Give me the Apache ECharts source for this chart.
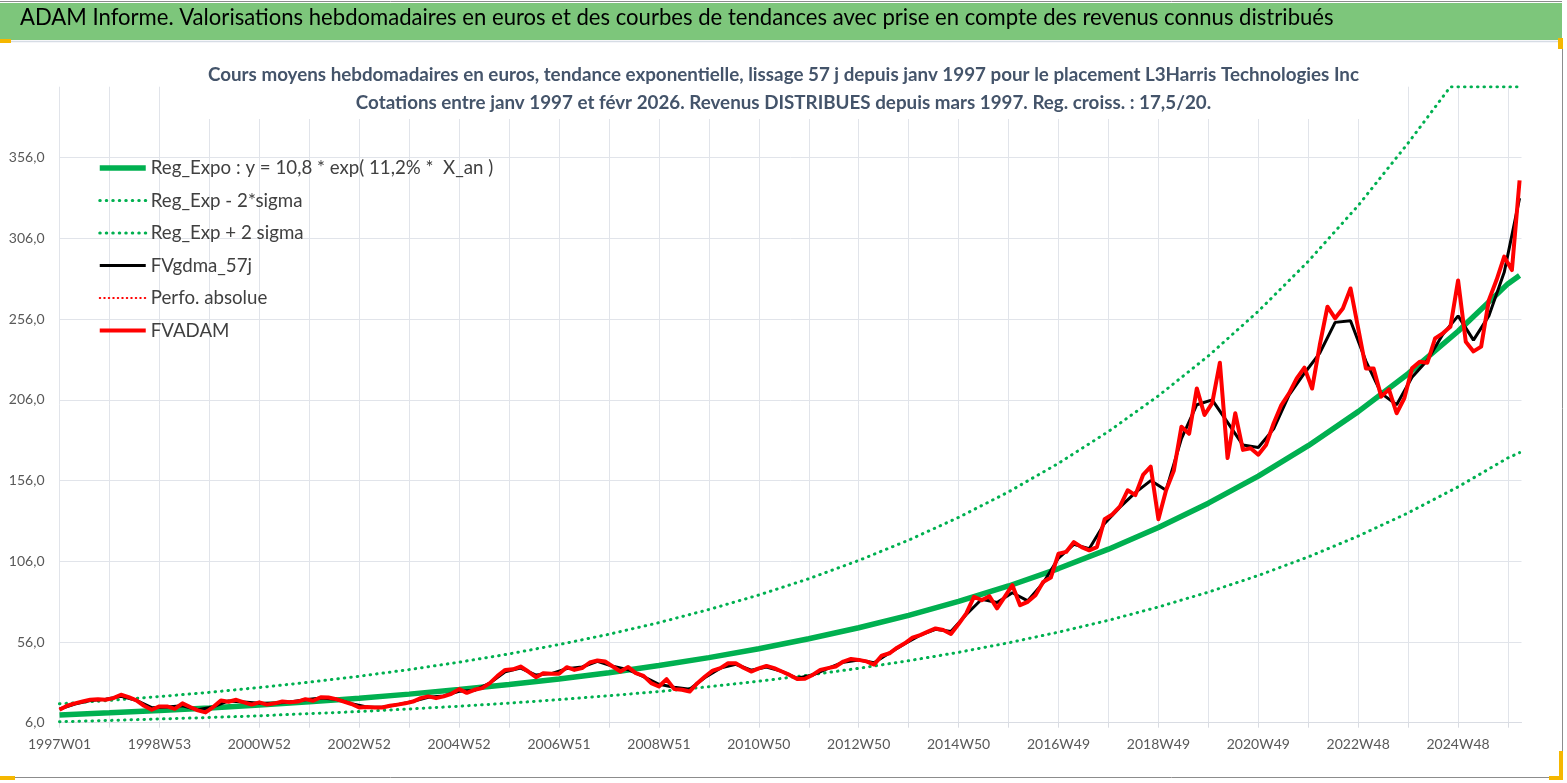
<!DOCTYPE html>
<html>
<head>
<meta charset="utf-8">
<script src="https://cdn.jsdelivr.net/npm/echarts@6.0.0/dist/echarts.min.js"></script>
<style>
html, body { margin: 0; padding: 0; background: #fff; }
#chart { width: 1567px; height: 783px; }
</style>
</head>
<body>
<div id="chart"></div>
<script>
// libellés de l'axe des semaines (un tous les 104 points hebdo)
var xTickLabels = ['1997W01', '1998W53', '2000W52', '2002W52', '2004W52', '2006W51', '2008W51', '2010W50',
    '2012W50', '2014W50', '2016W49', '2018W49', '2020W49', '2022W48', '2024W48'];

// FVADAM : un point toutes les 8 semaines depuis 1997W01
var fvadamStep = 8;
var fvadam = [14.0, 16.5, 18.0, 19.1, 20.2, 20.6, 20.2, 21.2, 23.3, 21.8,
    19.8, 16.5, 14.0, 16.1, 16.1, 14.6, 18.0, 15.7, 13.6, 12.4,
    15.7, 19.8, 19.0, 20.2, 18.6, 17.2, 18.6, 17.2, 18.0, 19.1,
    18.6, 19.1, 20.6, 19.6, 21.8, 21.6, 20.6, 19.1, 17.6, 15.4,
    15.7, 15.4, 15.4, 16.5, 17.2, 18.0, 19.1, 21.2, 22.3, 21.2,
    22.3, 23.9, 26.8, 24.5, 26.4, 27.4, 30.5, 35.0, 38.7, 39.1,
    40.8, 37.7, 34.2, 36.7, 36.3, 36.3, 40.4, 38.7, 39.8, 43.3,
    44.5, 43.9, 40.8, 37.7, 40.5, 36.7, 35.0, 30.5, 28.4, 33.0,
    26.8, 26.4, 25.3, 30.5, 34.6, 38.3, 39.8, 42.8, 42.8, 40.0,
    37.7, 39.6, 41.2, 39.8, 37.7, 35.6, 33.0, 33.2, 35.6, 38.7,
    39.8, 40.8, 43.9, 45.5, 44.9, 44.0, 42.0, 47.6, 49.0, 52.5,
    55.2, 58.7, 60.3, 62.4, 64.4, 63.4, 61.0, 67.1, 73.7, 84.0,
    81.9, 84.4, 76.8, 84.0, 91.2, 78.8, 80.9, 85.0, 93.2, 95.9,
    110.7, 111.8, 117.9, 114.8, 112.8, 114.8, 132.0, 135.0, 140.0, 150.0,
    147.0, 159.5, 164.6, 132.0, 150.0, 162.0, 189.4, 185.0, 213.1, 196.6,
    204.0, 229.0, 170.0, 197.7, 175.0, 176.0, 172.0, 178.0, 191.5, 202.8,
    210.0, 219.3, 226.0, 213.0, 240.0, 263.7, 256.5, 262.6, 275.0, 250.3,
    225.5, 225.5, 208.0, 212.5, 197.7, 207.0, 225.5, 229.6, 229.0, 244.0,
    247.2, 251.3, 280.0, 242.0, 236.0, 239.0, 267.8, 280.2, 294.7, 286.4,
    342.0];

// FVgdma_57j : lissage, un point toutes les 16 semaines
var gdmaStep = 16;
var fvgdma = [14.5, 17.5, 19.8, 20.5, 22.3, 19.8, 15.3, 15.8, 16.5, 14.0,
    15.8, 19.5, 18.8, 18.0, 18.0, 18.8, 20.2, 21.3, 20.5, 17.8,
    15.8, 15.6, 17.2, 19.2, 21.8, 22.6, 25.5, 26.0, 30.5, 37.5,
    39.8, 35.5, 36.4, 39.5, 40.5, 44.0, 41.0, 38.8, 34.5, 29.8,
    28.0, 26.8, 34.0, 39.8, 42.2, 38.5, 40.5, 37.8, 33.5, 35.5,
    39.6, 43.5, 44.8, 43.2, 49.2, 55.0, 60.2, 63.9, 62.5, 73.0,
    82.5, 80.5, 86.5, 81.5, 92.5, 108.0, 116.5, 113.8, 129.5, 139.5,
    148.5, 156.0, 150.0, 182.0, 203.0, 206.0, 192.0, 178.0, 176.5, 188.0,
    209.0, 222.5, 235.0, 254.0, 255.0, 230.0, 210.0, 203.0, 220.0, 230.5,
    246.5, 258.0, 243.0, 258.0, 285.0, 331.0];

// courbes de tendance (semaines / valeurs)
var trendWeeks = [0, 52, 104, 156, 208, 260, 312, 364, 416, 468, 520, 572, 624, 676, 728, 780,
    832, 884, 936, 988, 1040, 1092, 1144, 1196, 1248, 1300, 1352, 1404, 1456, 1508, 1520];
var regExpo = [10.8, 12.1, 13.5, 15.1, 16.9, 18.9, 21.2, 23.7, 26.5, 29.6, 33.1, 37.0, 41.4, 46.3, 51.8, 58.0,
    64.8, 72.5, 81.1, 90.7, 101.5, 113.5, 126.9, 142.0, 158.8, 177.6, 198.7, 222.2, 248.5, 278.0, 283.0];
var regLow = [6.6, 7.4, 8.3, 9.2, 10.3, 11.6, 12.9, 14.5, 16.2, 18.1, 20.3, 22.7, 25.3, 28.3, 31.7, 35.5,
    39.7, 44.4, 49.6, 55.5, 62.1, 69.4, 77.7, 86.9, 97.2, 108.7, 121.6, 136.0, 152.1, 170.1, 173.3];
var upWeeks = [0, 52, 104, 156, 208, 260, 312, 364, 416, 468, 520, 572, 624, 676, 728, 780,
    832, 884, 936, 988, 1040, 1092, 1144, 1196, 1248, 1300, 1352, 1404, 1448, 1520];
var regUp = [17.7, 19.8, 22.2, 24.8, 27.8, 31.1, 34.8, 38.9, 43.5, 48.6, 54.4, 60.8, 68.0, 76.1, 85.1, 95.2,
    106.5, 119.1, 133.2, 149.0, 166.7, 186.4, 208.5, 233.2, 260.9, 291.8, 326.4, 365.1, 400, 400];
var perfoAbsolue = [];

var titre = 'ADAM Informe. Valorisations hebdomadaires en euros et des courbes de tendances avec prise en compte des revenus connus distribués';
var sousTitre1 = 'Cours moyens hebdomadaires en euros, tendance exponentielle, lissage 57 j depuis janv 1997 pour le placement L3Harris Technologies Inc';
var sousTitre2 = 'Cotations entre janv 1997 et févr 2026. Revenus DISTRIBUES depuis mars 1997. Reg. croiss. : 17,5/20.';
var nomReg = 'Reg_Expo : y = 10,8 * exp( 11,2% *  X_an )';

//taille de police calée sur la largeur voulue
var ctx = document.createElement('canvas').getContext('2d');
function fit(text, weight, width) {
    ctx.font = weight + ' 100px Lato';
    return Math.round(1000 * width / ctx.measureText(text).width) / 10;
}
var titreSize = fit(titre, 'normal', 1313);
var sousSize = fit(sousTitre1, 'bold', 1155);
var legendSize = fit(nomReg, 'normal', 342);
var axisSize = 14;

function pairs(xs, ys) {
    return ys.map(function (v, i) { return [xs[i], v]; });
}
function stepped(step, ys) {
    return ys.map(function (v, i) { return [i * step, v]; });
}

var dotted = {type: [0.5, 6], cap: 'round', width: 3, color: '#00B050'};

var chart = echarts.init(document.getElementById('chart'), null, {renderer: 'canvas'});
chart.setOption({
    backgroundColor: '#fff',
    animation: false,
    textStyle: {fontFamily: 'Lato'},
    title: {
        text: sousTitre1 + '\n' + sousTitre2,
        left: 'center',
        top: 57,
        padding: [4, 25, 2, 25],
        backgroundColor: '#fff',
        textStyle: {fontFamily: 'Lato', fontWeight: 'bold', fontSize: sousSize, color: '#44546A', lineHeight: 28}
    },
    legend: {
        orient: 'vertical',
        left: 97,
        top: 158,
        itemWidth: 46,
        itemHeight: 20,
        itemGap: 12.5,
        padding: 0,
        data: [nomReg, 'Reg_Exp - 2*sigma', 'Reg_Exp + 2 sigma', 'FVgdma_57j', 'Perfo. absolue', 'FVADAM'],
        lineStyle: {width: 'inherit'},
        itemStyle: {opacity: 0, borderWidth: 0},
        textStyle: {fontFamily: 'Lato', fontSize: legendSize, color: '#404040', lineHeight: 20}
    },
    grid: {left: 59.5, right: 45.5, top: 86.7, bottom: 60.3, containLabel: false},
    xAxis: {
        type: 'value',
        min: 0,
        max: 1522,
        interval: 52,
        axisLine: {show: true, lineStyle: {color: '#D9DCE3', width: 1}},
        axisTick: {show: true, length: 5, lineStyle: {color: '#D9DCE3'}},
        splitLine: {show: true, showMaxLine: false, lineStyle: {color: '#E1E4EA', width: 1}},
        axisLabel: {
            margin: 15,
            fontFamily: 'Lato',
            fontSize: axisSize,
            color: '#595959',
            showMaxLabel: false,
            formatter: function (v) {
                if (v % 104 !== 0) return '';
                return xTickLabels[v / 104] || '';
            }
        }
    },
    yAxis: {
        type: 'value',
        min: 6,
        max: 400,
        interval: 50,
        axisLine: {show: false},
        axisTick: {show: false},
        splitLine: {show: true, showMaxLine: false, lineStyle: {color: '#E1E4EA', width: 1}},
        axisLabel: {
            margin: 15,
            fontFamily: 'Lato',
            fontSize: axisSize,
            color: '#595959',
            showMaxLabel: false,
            formatter: function (v) {
                if ((v - 6) % 50 !== 0) return '';
                return v.toFixed(1).replace('.', ',');
            }
        }
    },
    graphic: [
        {type: 'rect', shape: {x: 0, y: 3, width: 1562, height: 37}, style: {fill: '#7DC67B'}, z: 1},
        {type: 'line', shape: {x1: 0, y1: 1.5, x2: 1562, y2: 1.5}, style: {stroke: '#8C8C8C', lineWidth: 1}, z: 1},
        {type: 'line', shape: {x1: 0, y1: 41.5, x2: 1562, y2: 41.5}, style: {stroke: '#D6DCE5', lineWidth: 1.5}, z: 1},
        {type: 'line', shape: {x1: 1562.5, y1: 40, x2: 1562.5, y2: 777}, style: {stroke: '#8C8C8C', lineWidth: 1}, z: 1},
        {type: 'line', shape: {x1: 0, y1: 777.5, x2: 1562, y2: 777.5}, style: {stroke: '#8C8C8C', lineWidth: 1}, z: 1},
        {type: 'rect', shape: {x: 0, y: 39, width: 11, height: 4}, style: {fill: '#F5B700'}, z: 2},
        {type: 'rect', shape: {x: 1558, y: 38, width: 5, height: 11}, style: {fill: '#F5B700'}, z: 2},
        {type: 'rect', shape: {x: 0, y: 776, width: 15, height: 4}, style: {fill: '#F5B700'}, z: 2},
        {type: 'rect', shape: {x: 1549, y: 776, width: 14, height: 4}, style: {fill: '#F5B700'}, z: 2},
        {type: 'rect', shape: {x: 1559, y: 751, width: 4, height: 28}, style: {fill: '#F5B700'}, z: 2},
        {
            type: 'text', left: 20, top: 21 - titreSize * 0.62, z: 3,
            style: {text: titre, font: titreSize + 'px Lato', fill: '#000'}
        }
    ],
    series: [
        {
            name: nomReg, type: 'line', symbol: 'none', z: 2,
            lineStyle: {color: '#00B050', width: 5.5},
            itemStyle: {color: '#00B050'},
            data: pairs(trendWeeks, regExpo)
        },
        {
            name: 'Reg_Exp - 2*sigma', type: 'line', symbol: 'none', z: 3,
            lineStyle: dotted, itemStyle: {color: '#00B050'},
            data: pairs(trendWeeks, regLow)
        },
        {
            name: 'Reg_Exp + 2 sigma', type: 'line', symbol: 'none', z: 3,
            lineStyle: dotted, itemStyle: {color: '#00B050'},
            data: pairs(upWeeks, regUp)
        },
        {
            name: 'FVgdma_57j', type: 'line', symbol: 'none', z: 4,
            lineStyle: {color: '#000', width: 3},
            itemStyle: {color: '#000'},
            data: stepped(gdmaStep, fvgdma)
        },
        {
            name: 'Perfo. absolue', type: 'line', symbol: 'none', z: 4,
            lineStyle: {color: '#FF0000', width: 2, type: [0.5, 4], cap: 'round'},
            itemStyle: {color: '#FF0000'},
            data: perfoAbsolue
        },
        {
            name: 'FVADAM', type: 'line', symbol: 'none', z: 5,
            lineStyle: {color: '#FF0000', width: 4, join: 'round'},
            itemStyle: {color: '#FF0000'},
            data: stepped(fvadamStep, fvadam)
        }
    ]
});
</script>
</body>
</html>
